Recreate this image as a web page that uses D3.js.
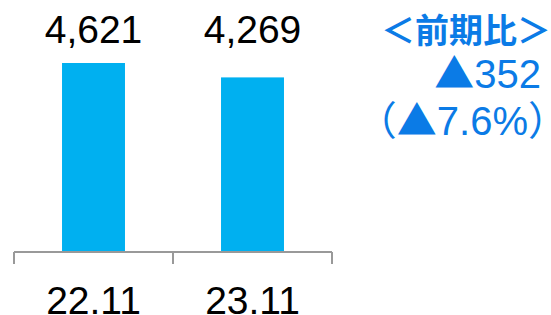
<!DOCTYPE html>
<html lang="ja">
<head>
<meta charset="UTF-8">
<title>前期比</title>
<script src="https://cdn.jsdelivr.net/npm/d3@7"></script>
<style>
  body { margin: 0; background: #fff; }
  svg { display: block; font-family: "Liberation Sans", Arial, sans-serif; }
  .note { fill: #0B7BE6; }
  .cjk { font-family: "Noto Sans CJK JP", sans-serif; }
</style>
</head>
<body>
<svg id="chart" width="551" height="315"></svg>
<script>
// data
const categories = ["22.11", "23.11"];
const values = [4621, 4269];
const noteTitle = "＜前期比＞";
const noteDiff = ["▲", "352"];
const notePct = ["（", "▲", "7.6%", "）"];

const svg = d3.select("#chart");

let x = d3.scaleBand()
  .domain(categories)
  .range([14, 332])
  .paddingInner(0.604)
  .paddingOuter(0.302);

let y = d3.scaleLinear()
  .domain([0, 5000])
  .range([252, 47.5]);

// bars
svg.selectAll("rect.bar")
  .data(values)
  .join("rect")
  .attr("class", "bar")
  .attr("x", (d, i) => x(categories[i]))
  .attr("width", x.bandwidth())
  .attr("y", d => y(d))
  .attr("height", d => y(0) - y(d))
  .style("fill", "#00B0F0");

// value labels
svg.selectAll("text.val")
  .data(values)
  .join("text")
  .attr("class", "val")
  .attr("x", (d, i) => x(categories[i]) + x.bandwidth() / 2)
  .attr("y", 43)
  .attr("text-anchor", "middle")
  .style("font-size", "39px")
  .style("fill", "#000")
  .text(d => d3.format(",")(d));

// axis line + ticks at band edges
let axis = svg.append("g").attr("stroke", "#999").attr("stroke-width", 2);
axis.append("line")
  .attr("x1", x.range()[0]).attr("x2", x.range()[1])
  .attr("y1", y(0)).attr("y2", y(0));
let edges = [x.range()[0]].concat(categories.map(c => x(c) - x.step() * x.paddingInner() / 2 + x.step()));
axis.selectAll("line.tick")
  .data(edges)
  .join("line")
  .attr("class", "tick")
  .attr("x1", d => d).attr("x2", d => d)
  .attr("y1", y(0)).attr("y2", y(0) + 12);

// category labels (bottom is clipped in the original too)
svg.selectAll("text.cat")
  .data(categories)
  .join("text")
  .attr("class", "cat")
  .attr("x", d => x(d) + x.bandwidth() / 2)
  .attr("y", 314)
  .attr("text-anchor", "middle")
  .style("font-size", "39px")
  .style("fill", "#000")
  .text(d => d);

// note on right
svg.append("text").attr("class", "note cjk")
  .attr("x", 551).attr("y", 43)
  .attr("text-anchor", "end")
  .style("font-weight", "bold")
  .style("font-size", "34px")
  .text(noteTitle);

let t2 = svg.append("text").attr("class", "note")
  .attr("x", 541).attr("y", 88)
  .attr("text-anchor", "end")
  .style("font-size", "40px");
t2.append("tspan").attr("class", "cjk").text(noteDiff[0]);
t2.append("tspan").text(noteDiff[1]);

let t3 = svg.append("text").attr("class", "note")
  .attr("x", 548).attr("y", 135)
  .attr("text-anchor", "end")
  .style("font-size", "40px");
notePct.forEach((s, i) => {
  let sp = t3.append("tspan").attr("class", i === 2 ? null : "cjk").text(s);
  if (i === 3) sp.style("letter-spacing", "-20px");
});
</script>
</body>
</html>
